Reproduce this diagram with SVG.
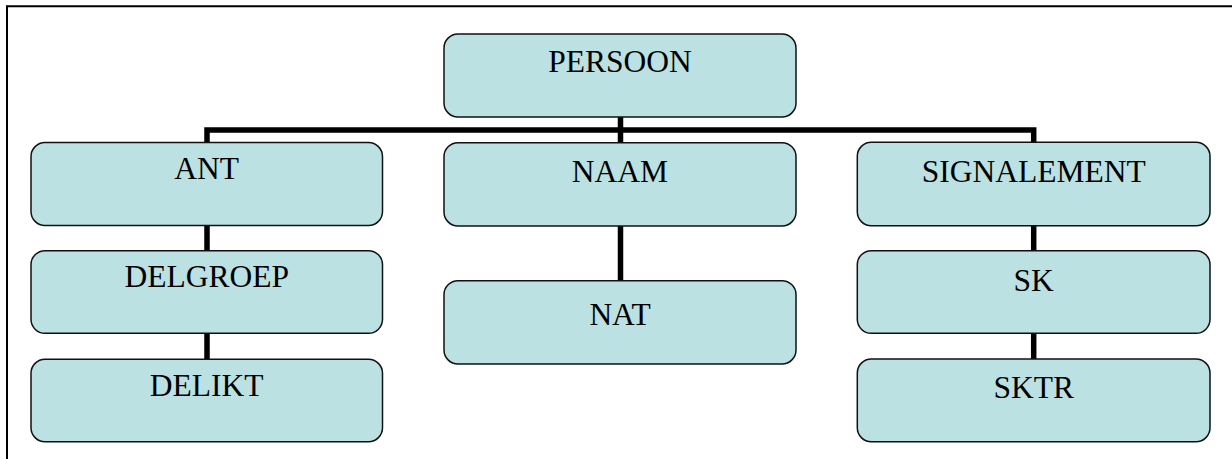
<svg xmlns="http://www.w3.org/2000/svg" width="1232" height="459" viewBox="0 0 1232 459">
  <style>
    .box { fill: #bce1e2; stroke: #111; stroke-width: 1.5; }
    .link { fill: none; stroke: #000; stroke-width: 5.5; }
    .frame { fill: none; stroke: #000; stroke-width: 2; }
  </style>
  <rect width="1232" height="459" fill="#fff"/>
  <!-- page frame: top and left edges -->
  <path class="frame" d="M7,459 V6.3 H1232"/>

  <g id="connectors">
    <path class="link" d="M620.5,117 V142.5"/>
    <path class="link" d="M207,142 V130 H1033.7 V142"/>
    <path class="link" d="M207,225 V251"/>
    <path class="link" d="M207,333 V359.5"/>
    <path class="link" d="M620.5,226 V281"/>
    <path class="link" d="M1033.7,225.5 V251"/>
    <path class="link" d="M1033.7,333 V359"/>
  </g>

  <!-- labels share one serif face, centred on each box -->
  <g font-family="Liberation Serif, Times New Roman, Times, serif" font-size="31.5" fill="#000" text-anchor="middle">
    <g id="persoon">
      <rect class="box" x="444" y="34" width="352" height="83" rx="14"/>
      <text x="620" y="72">PERSOON</text>
    </g>
    <g id="ant">
      <rect class="box" x="31" y="142.5" width="351.5" height="83" rx="14"/>
      <text x="206.7" y="178.5">ANT</text>
    </g>
    <g id="naam">
      <rect class="box" x="444" y="142.7" width="352" height="83.3" rx="14"/>
      <text x="620" y="181.7">NAAM</text>
    </g>
    <g id="signalement">
      <rect class="box" x="857.3" y="142.3" width="352.7" height="83.4" rx="14"/>
      <text x="1033.7" y="181.7">SIGNALEMENT</text>
    </g>
    <g id="delgroep">
      <rect class="box" x="31" y="250.7" width="351.5" height="82.6" rx="14"/>
      <text x="206.7" y="286.7">DELGROEP</text>
    </g>
    <g id="nat">
      <rect class="box" x="444" y="280.7" width="352" height="83.3" rx="14"/>
      <text x="620" y="325">NAT</text>
    </g>
    <g id="sk">
      <rect class="box" x="857.3" y="250.7" width="352.7" height="82.6" rx="14"/>
      <text x="1033.7" y="290.7">SK</text>
    </g>
    <g id="delikt">
      <rect class="box" x="31" y="359.3" width="351.5" height="82.4" rx="14"/>
      <text x="206.7" y="395.7">DELIKT</text>
    </g>
    <g id="sktr">
      <rect class="box" x="857.3" y="359" width="352.7" height="82.7" rx="14"/>
      <text x="1033.7" y="397.7">SKTR</text>
    </g>
  </g>
</svg>
